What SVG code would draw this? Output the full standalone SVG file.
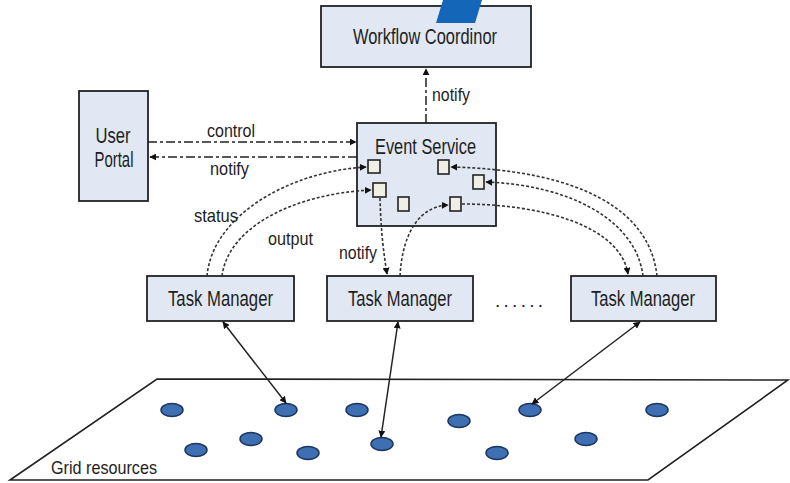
<svg xmlns="http://www.w3.org/2000/svg" width="790" height="483" viewBox="0 0 790 483">
<style>
.box{fill:#e1e8f3;stroke:#222;stroke-width:1.8}
.sq{fill:#f0efe6;stroke:#222;stroke-width:1.6}
.t{font-family:"Liberation Sans",Arial,sans-serif;fill:#1e1e1e;text-anchor:middle}
.big{font-size:22px}
.sm{font-size:19px}
.dd{fill:none;stroke:#222;stroke-width:1.5;stroke-dasharray:9,3,3,3}
.dc{fill:none;stroke:#333;stroke-width:1.6;stroke-dasharray:3,2}
.sol{fill:none;stroke:#222;stroke-width:1.5}
.res{fill:#3f6fb3;stroke:#1c3560;stroke-width:1.5}
</style>
<defs>
<marker id="ah" viewBox="0 0 10 10" refX="9" refY="5" markerWidth="7" markerHeight="7" markerUnits="userSpaceOnUse" orient="auto-start-reverse">
<path d="M0,0 L10,5 L0,10 z" fill="#111"/>
</marker>
</defs>
<rect width="790" height="483" fill="#fff"/>

<g id="grid">
<polygon points="157,379 788,380 648,480 10,480" fill="#fff" stroke="#222" stroke-width="1.6"/>
<text class="t sm" x="104" y="474" textLength="106" lengthAdjust="spacingAndGlyphs">Grid resources</text>
<ellipse class="res" cx="172" cy="410" rx="11" ry="6.5"/>
<ellipse class="res" cx="286" cy="410" rx="11" ry="6.5"/>
<ellipse class="res" cx="357" cy="410" rx="11" ry="6.5"/>
<ellipse class="res" cx="459" cy="421" rx="11" ry="6.5"/>
<ellipse class="res" cx="530" cy="410" rx="11" ry="6.5"/>
<ellipse class="res" cx="657" cy="410" rx="11" ry="6.5"/>
<ellipse class="res" cx="196" cy="450" rx="11" ry="6.5"/>
<ellipse class="res" cx="251" cy="439" rx="11" ry="6.5"/>
<ellipse class="res" cx="308" cy="453" rx="11" ry="6.5"/>
<ellipse class="res" cx="382" cy="444" rx="11" ry="6.5"/>
<ellipse class="res" cx="497" cy="453" rx="11" ry="6.5"/>
<ellipse class="res" cx="586" cy="439" rx="11" ry="6.5"/>
</g>

<g id="workflow-coordinor">
<rect class="box" x="321" y="6" width="210" height="61"/>
<text class="t big" x="425" y="44" textLength="144" lengthAdjust="spacingAndGlyphs">Workflow Coordinor</text>
</g>
<polygon id="logo" points="443,0 482,0 475,23 436,23" fill="#1466b8"/>

<g id="user-portal">
<rect class="box" x="79" y="91" width="69" height="110"/>
<text class="t big" x="113" y="143" textLength="35" lengthAdjust="spacingAndGlyphs">User</text>
<text class="t big" x="114" y="167" textLength="39" lengthAdjust="spacingAndGlyphs">Portal</text>
</g>

<g id="event-service">
<rect class="box" x="357" y="123" width="139" height="103"/>
<text class="t big" x="425.5" y="154" textLength="101" lengthAdjust="spacingAndGlyphs">Event Service</text>
<rect class="sq" x="368" y="160" width="12" height="13"/>
<rect class="sq" x="373" y="183" width="13" height="14"/>
<rect class="sq" x="398" y="197" width="11" height="14"/>
<rect class="sq" x="438" y="160" width="11" height="14"/>
<rect class="sq" x="473" y="175" width="11" height="14"/>
<rect class="sq" x="450" y="197" width="11" height="14"/>
</g>

<g id="task-manager-1">
<rect class="box" x="147" y="276" width="147" height="45"/>
<text class="t big" x="220.5" y="306" textLength="105" lengthAdjust="spacingAndGlyphs">Task Manager</text>
</g>
<g id="task-manager-2">
<rect class="box" x="327" y="276" width="146" height="45"/>
<text class="t big" x="400" y="306" textLength="104" lengthAdjust="spacingAndGlyphs">Task Manager</text>
</g>
<g id="task-manager-3">
<rect class="box" x="571" y="276" width="145" height="45"/>
<text class="t big" x="643" y="306" textLength="104" lengthAdjust="spacingAndGlyphs">Task Manager</text>
</g>
<text class="t sm" x="519" y="307" textLength="48" lengthAdjust="spacing">......</text>

<g id="connectors">
<path class="dd" d="M426,123 L426,69" marker-end="url(#ah)"/>
<path class="dd" d="M148,142 L356,142" marker-end="url(#ah)"/>
<path class="dd" d="M357,157 L150,157" marker-end="url(#ah)"/>
<path class="dc" d="M207,276 C212,218 285,172 366,167" marker-end="url(#ah)"/>
<path class="dc" d="M222,276 C228,228 292,194 371,190" marker-end="url(#ah)"/>
<path class="dc" d="M380,198 C381,235 384,255 387,274" marker-end="url(#ah)"/>
<path class="dc" d="M400,276 C402,240 415,207 448,205" marker-end="url(#ah)"/>
<path class="dc" d="M657,276 C650,210 580,170 451,167" marker-end="url(#ah)"/>
<path class="dc" d="M643,276 C636,220 570,185 486,182" marker-end="url(#ah)"/>
<path class="dc" d="M462,204 C540,204 620,225 628,274" marker-end="url(#ah)"/>
<path class="sol" d="M223,322 L286,403" marker-start="url(#ah)" marker-end="url(#ah)"/>
<path class="sol" d="M398,322 L381,437" marker-start="url(#ah)" marker-end="url(#ah)"/>
<path class="sol" d="M640,322 L532,404" marker-start="url(#ah)" marker-end="url(#ah)"/>
<text class="t sm" x="451" y="101" textLength="38" lengthAdjust="spacingAndGlyphs">notify</text>
<text class="t sm" x="231" y="137" textLength="48" lengthAdjust="spacingAndGlyphs">control</text>
<text class="t sm" x="229.5" y="175" textLength="39" lengthAdjust="spacingAndGlyphs">notify</text>
<text class="t sm" x="216" y="222" textLength="44" lengthAdjust="spacingAndGlyphs">status</text>
<text class="t sm" x="290.5" y="245" textLength="45" lengthAdjust="spacingAndGlyphs">output</text>
<text class="t sm" x="358" y="259" textLength="38" lengthAdjust="spacingAndGlyphs">notify</text>
</g>
</svg>
